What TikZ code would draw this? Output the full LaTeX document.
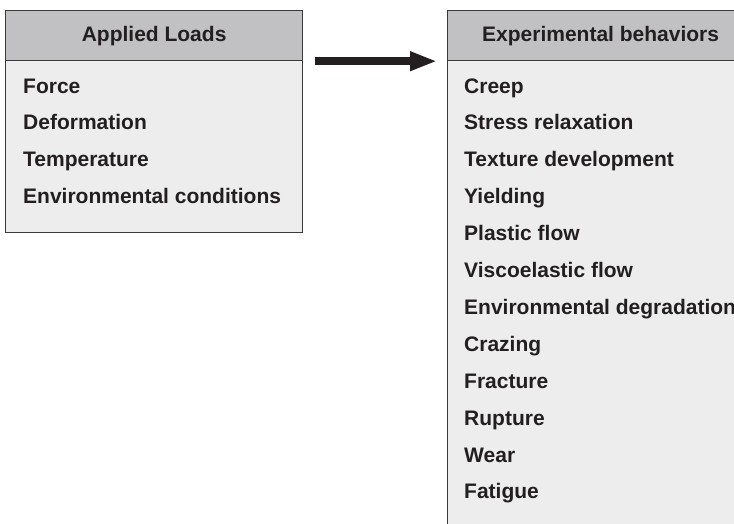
\documentclass[tikz,border=0pt]{standalone}
\usepackage{fontspec}
\setmainfont{Liberation Sans}
\usetikzlibrary{arrows.meta}

\definecolor{headgray}{HTML}{C1C1C3}
\definecolor{bodygray}{HTML}{EDEDED}
\definecolor{edgegray}{HTML}{3A3A3A}
\definecolor{inkblack}{HTML}{231F20}

\tikzset{
  headbox/.style={draw=edgegray,line width=1.2pt,fill=headgray,anchor=north west,
    inner sep=0pt,minimum height=50pt,text=inkblack,
    font=\fontsize{21}{25}\selectfont\bfseries},
  bodybox/.style={draw=edgegray,line width=1.2pt,fill=bodygray,anchor=north west,inner sep=0pt},
  itemtext/.style={anchor=base west,inner sep=0pt,text=inkblack,
    font=\fontsize{21}{25}\selectfont\bfseries},
  bigarrow/.style={draw=inkblack,line width=8pt,-{Triangle[length=27pt,width=18pt]}}
}

\begin{document}
\begin{tikzpicture}[x=1pt,y=-1pt]
  \clip (0,0) rectangle (734,523);

  % applied loads
  \node[bodybox,minimum width=297pt,minimum height=172pt] (loadsbody) at (5,60) {};
  \node[headbox,minimum width=297pt] (loadshead) at (5,10) {Applied Loads};
  \foreach \t [count=\i] in {Force,Deformation,Temperature,Environmental conditions}
    \node[itemtext] (load\i) at (23,{93+36.7*(\i-1)}) {\t};

  % experimental behaviors
  \node[bodybox,minimum width=306pt,minimum height=480pt] (behavbody) at (447,60) {};
  \node[headbox,minimum width=306pt] (behavhead) at (447,10) {Experimental behaviors};
  \foreach \t [count=\i] in {Creep,Stress relaxation,Texture development,Yielding,
      Plastic flow,Viscoelastic flow,Environmental degradation,Crazing,Fracture,
      Rupture,Wear,Fatigue}
    \node[itemtext] (behav\i) at (464,{93+36.9*(\i-1)}) {\t};

  \draw[bigarrow] ([xshift=12pt]loadshead.south east) -- ([xshift=-10pt]behavhead.south west);
\end{tikzpicture}
\end{document}
